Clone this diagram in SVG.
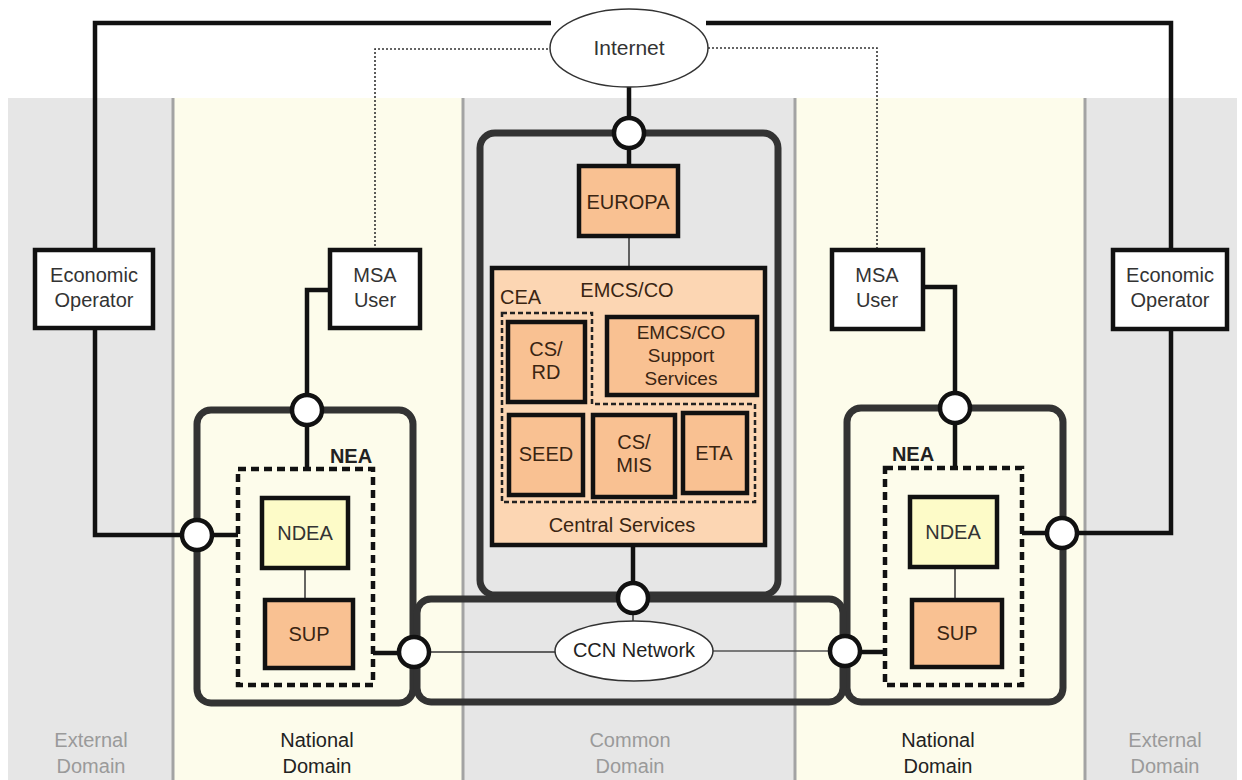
<svg xmlns="http://www.w3.org/2000/svg" width="1242" height="780" viewBox="0 0 1242 780">
<style>
text{font-family:"Liberation Sans",Arial,sans-serif;font-size:20px;text-anchor:middle;dominant-baseline:central}
.band-g{fill:#e6e6e6}
.band-y{fill:#fdfceb}
.div{stroke:#a3a3a3;stroke-width:3}
.lbl-g{fill:#9a9a9a}
.lbl-n{fill:#222}
.cont{fill:none;stroke:#333;stroke-width:7}
.wbox{fill:#fff;stroke:#111;stroke-width:4.5}
.pbox{fill:#f9c192;stroke:#111;stroke-width:4.5}
.ybox{fill:#fdfbc8;stroke:#111;stroke-width:4.5}
.ptxt{fill:#3a2512}
.thick{fill:none;stroke:#111;stroke-width:4.5}
.thin{fill:none;stroke:#333;stroke-width:1.5}
.dot{fill:none;stroke:#333;stroke-width:1.6;stroke-dasharray:2 2}
.nea{fill:none;stroke:#111;stroke-width:4.5;stroke-dasharray:8 5}
.cea{fill:none;stroke:#222;stroke-width:2.5;stroke-dasharray:5 3}
.port{fill:#fff;stroke:#111;stroke-width:4.5}
.cloud{fill:#fff;stroke:#333;stroke-width:1.5}
</style>

<g id="background">
<rect class="band-g" x="8" y="98" width="165" height="682"/>
<rect class="band-y" x="173" y="98" width="290" height="682"/>
<rect class="band-g" x="463" y="98" width="332" height="682"/>
<rect class="band-y" x="795" y="98" width="290" height="682"/>
<rect class="band-g" x="1085" y="98" width="152" height="682"/>
<line class="div" x1="173" y1="98" x2="173" y2="780"/>
<line class="div" x1="463" y1="98" x2="463" y2="780"/>
<line class="div" x1="795" y1="98" x2="795" y2="780"/>
<line class="div" x1="1085" y1="98" x2="1085" y2="780"/>
<text class="lbl-g" x="91" y="740">External</text>
<text class="lbl-g" x="91" y="766">Domain</text>
<text class="lbl-n" x="317" y="740">National</text>
<text class="lbl-n" x="317" y="766">Domain</text>
<text class="lbl-g" x="630" y="740">Common</text>
<text class="lbl-g" x="630" y="766">Domain</text>
<text class="lbl-n" x="938" y="740">National</text>
<text class="lbl-n" x="938" y="766">Domain</text>
<text class="lbl-g" x="1165" y="740">External</text>
<text class="lbl-g" x="1165" y="766">Domain</text>
</g>

<g id="containers">
<rect id="common-container" class="cont" x="480" y="133" width="298" height="462" rx="15"/>
<rect id="national-left" class="cont" x="197" y="410" width="216" height="293" rx="14"/>
<rect id="national-right" class="cont" x="847" y="408" width="216" height="294" rx="14"/>
<rect id="ccn-container" class="cont" x="417" y="599" width="426" height="103" rx="14"/>
</g>

<g id="connectors">
<polyline class="thick" points="95,250 95,23 551,23"/>
<polyline class="thick" points="706,23 1171,23 1171,250"/>
<polyline class="dot" points="375,250 375,49 550,49"/>
<polyline class="dot" points="708,48 877,48 877,250"/>
<line class="thick" x1="629" y1="87" x2="629" y2="166"/>
<line class="thin" x1="629" y1="236" x2="629" y2="268"/>
<line class="thick" x1="633" y1="545" x2="633" y2="598"/>
<line class="thin" x1="633" y1="598" x2="633" y2="621"/>
<line class="thin" x1="415" y1="652" x2="556" y2="652"/>
<line class="thin" x1="712" y1="651" x2="845" y2="651" style="stroke:#555"/>
<polyline class="thick" points="95,328 95,535 238,535"/>
<polyline class="thick" points="330,290 307,290 307,469"/>
<line class="thick" x1="413" y1="653" x2="373" y2="653"/>
<line class="thin" x1="305" y1="568" x2="305" y2="600"/>
<polyline class="thick" points="1171,329 1171,533 1022,533"/>
<polyline class="thick" points="923,287 955,287 955,468"/>
<line class="thick" x1="845" y1="652" x2="885" y2="652"/>
<line class="thin" x1="955" y1="567" x2="955" y2="600"/>
</g>

<g id="internet">
<ellipse class="cloud" cx="629" cy="48" rx="79" ry="39"/>
<text x="629" y="47" style="fill:#333;font-size:21px">Internet</text>
</g>

<g id="economic-operator-left">
<rect class="wbox" x="35" y="250" width="118" height="78"/>
<text x="94" y="275" style="fill:#333">Economic</text>
<text x="94" y="300" style="fill:#333">Operator</text>
</g>
<g id="msa-user-left">
<rect class="wbox" x="330" y="250" width="90" height="78"/>
<text x="375" y="275" style="fill:#333">MSA</text>
<text x="375" y="300" style="fill:#333">User</text>
</g>
<g id="msa-user-right">
<rect class="wbox" x="832" y="250" width="91" height="79"/>
<text x="877" y="275" style="fill:#333">MSA</text>
<text x="877" y="300" style="fill:#333">User</text>
</g>
<g id="economic-operator-right">
<rect class="wbox" x="1113" y="250" width="114" height="79"/>
<text x="1170" y="275" style="fill:#333">Economic</text>
<text x="1170" y="300" style="fill:#333">Operator</text>
</g>

<g id="europa">
<rect class="pbox" x="579" y="166" width="99" height="70"/>
<text class="ptxt" x="628" y="202">EUROPA</text>
</g>

<g id="central-services">
<rect x="492" y="268" width="273" height="277" style="fill:#fcd6b3;stroke:#111;stroke-width:4.5"/>
<text class="ptxt" x="627" y="290">EMCS/CO</text>
<text class="ptxt" x="500" y="297" style="text-anchor:start">CEA</text>
<polygon class="cea" points="502,313 592,313 592,404 755,404 755,502 502,502"/>
<text class="ptxt" x="622" y="525">Central Services</text>
</g>
<g id="cs-rd">
<rect class="pbox" x="508" y="322" width="77" height="80"/>
<text class="ptxt" x="546" y="349">CS/</text>
<text class="ptxt" x="546" y="372">RD</text>
</g>
<g id="emcs-support">
<rect class="pbox" x="607" y="317" width="150" height="78"/>
<text class="ptxt" x="681" y="332" style="font-size:19px">EMCS/CO</text>
<text class="ptxt" x="681" y="355" style="font-size:19px">Support</text>
<text class="ptxt" x="681" y="378" style="font-size:19px">Services</text>
</g>
<g id="seed">
<rect class="pbox" x="509" y="415" width="74" height="80"/>
<text class="ptxt" x="546" y="454">SEED</text>
</g>
<g id="cs-mis">
<rect class="pbox" x="593" y="415" width="82" height="82"/>
<text class="ptxt" x="634" y="442">CS/</text>
<text class="ptxt" x="634" y="465">MIS</text>
</g>
<g id="eta">
<rect class="pbox" x="683" y="413" width="64" height="80"/>
<text class="ptxt" x="714" y="453">ETA</text>
</g>

<g id="ccn-network">
<ellipse class="cloud" cx="634" cy="651" rx="79" ry="30"/>
<text x="634" y="650" style="fill:#222">CCN Network</text>
</g>

<g id="nea-left">
<rect class="nea" x="238" y="469" width="135" height="216"/>
<text x="351" y="456" style="font-weight:bold;fill:#222">NEA</text>
</g>
<g id="ndea-left">
<rect class="ybox" x="262" y="498" width="86" height="70"/>
<text x="305" y="533" style="fill:#333">NDEA</text>
</g>
<g id="sup-left">
<rect class="pbox" x="265" y="600" width="88" height="68"/>
<text class="ptxt" x="309" y="634">SUP</text>
</g>

<g id="nea-right">
<rect class="nea" x="885" y="468" width="137" height="217"/>
<text x="913" y="454" style="font-weight:bold;fill:#222">NEA</text>
</g>
<g id="ndea-right">
<rect class="ybox" x="910" y="497" width="87" height="70"/>
<text x="953" y="532" style="fill:#333">NDEA</text>
</g>
<g id="sup-right">
<rect class="pbox" x="912" y="600" width="90" height="67"/>
<text class="ptxt" x="957" y="633">SUP</text>
</g>

<g id="ports">
<circle id="port-common-top" class="port" cx="629" cy="133" r="15"/>
<circle id="port-common-bottom" class="port" cx="633" cy="598" r="15"/>
<circle id="port-ccn-left" class="port" cx="414" cy="652" r="15"/>
<circle id="port-ccn-right" class="port" cx="845" cy="651" r="15"/>
<circle id="port-nl-top" class="port" cx="307" cy="410" r="15"/>
<circle id="port-nl-side" class="port" cx="197" cy="535" r="15"/>
<circle id="port-nr-top" class="port" cx="955" cy="408" r="15"/>
<circle id="port-nr-side" class="port" cx="1062" cy="533" r="15"/>
</g>
</svg>
